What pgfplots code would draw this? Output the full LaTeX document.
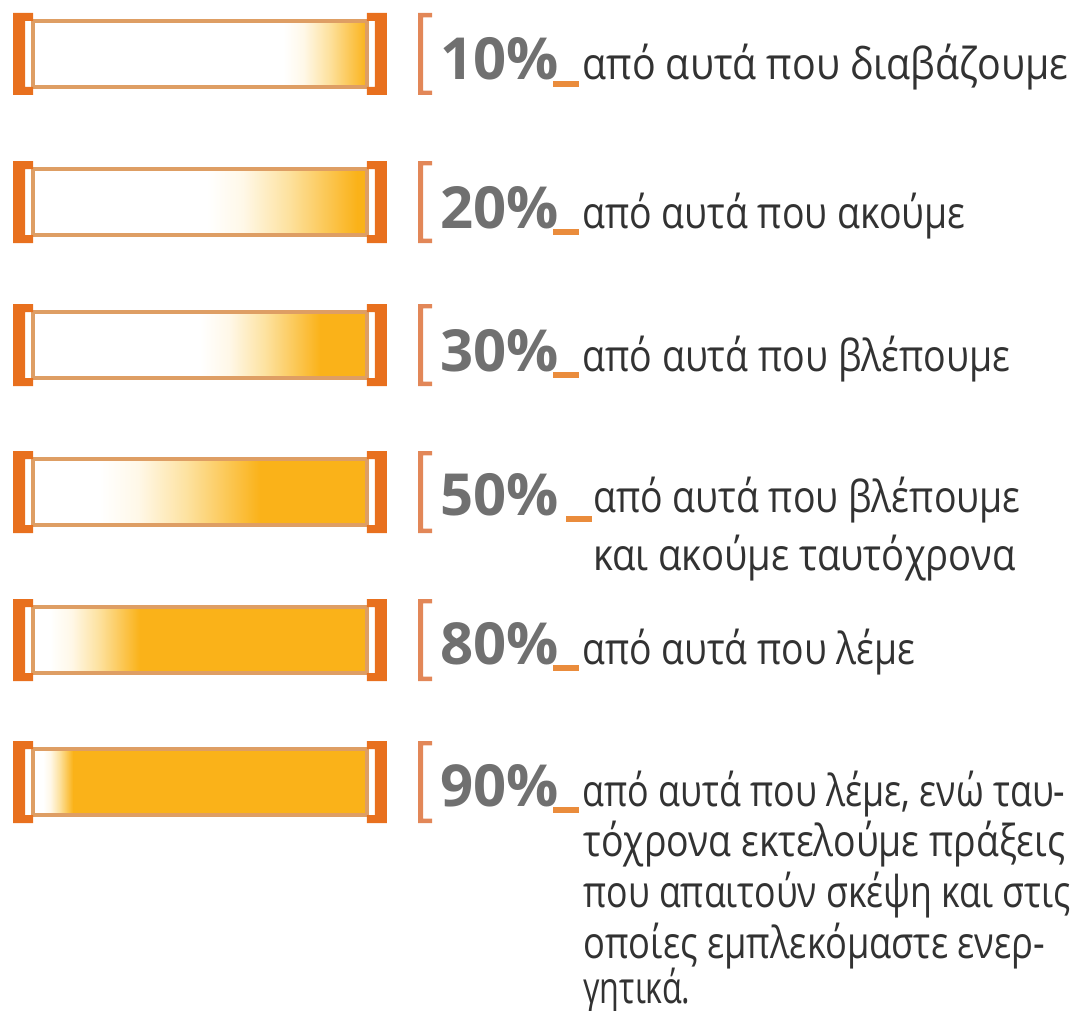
\documentclass[border=0pt]{standalone}
\usepackage{graphicx}
\usepackage{pgfplots}
\pgfplotsset{compat=1.18}
\usepackage{fontspec}
\setmainfont{Open Sans}
\newfontfamily\gfont{Open Sans}
\definecolor{barO}{RGB}{250,178,25}
\definecolor{barM}{RGB}{253,226,160}
\definecolor{barL}{RGB}{255,248,232}
\definecolor{capO}{RGB}{232,112,30}
\definecolor{tubeC}{RGB}{222,158,100}
\definecolor{brkC}{RGB}{226,135,88}
\definecolor{undC}{RGB}{234,140,60}
\definecolor{pctC}{RGB}{112,112,112}
\definecolor{txtC}{RGB}{50,50,50}
\pgfdeclarehorizontalshading{fadeO}{100bp}{color(0bp)=(white); color(25bp)=(white); color(37bp)=(barL); color(52bp)=(barM); color(75bp)=(barO); color(100bp)=(barO)}
\pgfdeclareplotmark{capL}{%
  \pgfpathrectangle{\pgfpoint{-5pt}{-20.5pt}}{\pgfpoint{6pt}{41pt}}%
  \pgfpathrectangle{\pgfpoint{1pt}{16.5pt}}{\pgfpoint{4pt}{4pt}}%
  \pgfpathrectangle{\pgfpoint{1pt}{-20.5pt}}{\pgfpoint{4pt}{4pt}}%
  \pgfusepathqfill}
\pgfdeclareplotmark{capR}{%
  \pgfpathrectangle{\pgfpoint{-1pt}{-20.5pt}}{\pgfpoint{6pt}{41pt}}%
  \pgfpathrectangle{\pgfpoint{-5pt}{16.5pt}}{\pgfpoint{4pt}{4pt}}%
  \pgfpathrectangle{\pgfpoint{-5pt}{-20.5pt}}{\pgfpoint{4pt}{4pt}}%
  \pgfusepathqfill}
\pgfdeclareplotmark{brk}{%
  \pgfpathrectangle{\pgfpoint{-3.5pt}{-20.5pt}}{\pgfpoint{2.6pt}{41pt}}%
  \pgfpathrectangle{\pgfpoint{-3.5pt}{18.3pt}}{\pgfpoint{7pt}{2.2pt}}%
  \pgfpathrectangle{\pgfpoint{-3.5pt}{-20.5pt}}{\pgfpoint{7pt}{2.2pt}}%
  \pgfusepathqfill}
\newcommand\pct[2]{\node[anchor=base west,inner sep=0pt,text=pctC,font=\fontsize{29}{30}\selectfont\bfseries] at (axis cs:121.86,#1) {#2\%};}
\newcommand\und[2]{\node[anchor=base west,inner sep=0pt] at (axis cs:#1,#2) {\color{undC}\rule[-3.5pt]{13pt}{3pt}};}
\newcommand\gtxt[4]{\node[anchor=base west,inner sep=0pt,text=txtC,font=\gfont\fontsize{22}{26}\selectfont] at (axis cs:#1,#2) {\resizebox{#3pt}{\height}{#4}};}
\begin{document}
\begin{tikzpicture}
\pgfplotsset{base/.style={width=538pt,height=505.5pt,scale only axis,
  xmin=-9.88,xmax=312.28,ymin=0,ymax=1011,y dir=reverse,hide axis,clip=false}}
% white part, (gradient part drawn separately), solid part of each tube
\begin{axis}[base, xbar stacked, bar width=66]
\addplot[fill=white, draw=none] coordinates {(75,54) (52,202) (50,345) (20,492) (5,640) (3,782)};
\addplot[fill=none, draw=none] coordinates {(25,54) (45,202) (36,345) (48,492) (27,640) (9,782)};
\addplot[fill=barO, draw=none] coordinates {(0,54) (3,202) (14,345) (32,492) (68,640) (88,782)};
\end{axis}
\begin{axis}[base]
% gradient zone of each tube (white -> orange)
\addplot[draw=none, shading=fadeO] coordinates {(75,21) (100,21) (100,87) (75,87)} -- cycle;
\addplot[draw=none, shading=fadeO] coordinates {(52,169) (97,169) (97,235) (52,235)} -- cycle;
\addplot[draw=none, shading=fadeO] coordinates {(50,312) (86,312) (86,378) (50,378)} -- cycle;
\addplot[draw=none, shading=fadeO] coordinates {(20,459) (68,459) (68,525) (20,525)} -- cycle;
\addplot[draw=none, shading=fadeO] coordinates {(5,607) (32,607) (32,673) (5,673)} -- cycle;
\addplot[draw=none, shading=fadeO] coordinates {(3,749) (12,749) (12,815) (3,815)} -- cycle;
\addplot[xbar, bar width=66, draw=tubeC, line width=2pt, fill=none] coordinates {(100,54) (100,202) (100,345) (100,492) (100,640) (100,782)};
\addplot[only marks, mark=capL, color=capO, mark options={fill=capO,draw=none}] coordinates {(-2.99,54) (-2.99,202) (-2.99,345) (-2.99,492) (-2.99,640) (-2.99,782)};
\addplot[only marks, mark=capR, color=capO, mark options={fill=capO,draw=none}] coordinates {(102.99,54) (102.99,202) (102.99,345) (102.99,492) (102.99,640) (102.99,782)};
\addplot[only marks, mark=brk, color=brkC, mark options={fill=brkC,draw=none}] coordinates {(117.37,54) (117.37,202) (117.37,345) (117.37,492) (117.37,640) (117.37,782)};
\pct{80}{10}\und{155.69}{80}\gtxt{164.37}{80}{243}{από αυτά που διαβάζουμε}
\pct{228}{20}\und{155.69}{228}\gtxt{164.37}{228}{191.5}{από αυτά που ακούμε}
\pct{371}{30}\und{155.69}{371}\gtxt{164.37}{371}{214}{από αυτά που βλέπουμε}
\pct{515}{50}\und{159.58}{515}\gtxt{167.66}{512}{213.5}{από αυτά που βλέπουμε}
\gtxt{167.66}{570}{211}{και ακούμε ταυτόχρονα}
\pct{664}{80}\und{155.69}{664}\gtxt{164.37}{664}{166.5}{από αυτά που λέμε}
\pct{806}{90}\und{155.69}{806}\gtxt{164.37}{806}{241.5}{από αυτά που λέμε, ενώ ταυ-}
\gtxt{164.67}{856}{241}{τόχρονα εκτελούμε πράξεις}
\gtxt{164.67}{907}{243.5}{που απαιτούν σκέψη και στις}
\gtxt{164.67}{958}{231}{οποίες εμπλεκόμαστε ενερ-}
\gtxt{164.67}{1003}{53.5}{γητικά.}
\end{axis}
\pgfresetboundingbox
\path (current axis.south west) rectangle (current axis.north east);
\end{tikzpicture}
\end{document}
